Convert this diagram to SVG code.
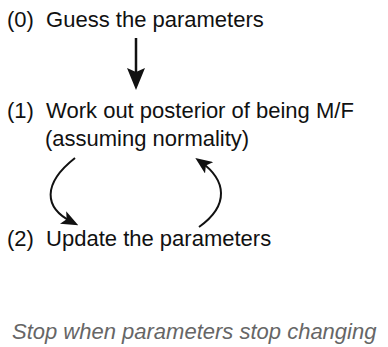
<svg xmlns="http://www.w3.org/2000/svg" width="388" height="347" viewBox="0 0 388 347">
  <defs>
    <marker id="headBig" markerUnits="userSpaceOnUse" markerWidth="22" markerHeight="18" refX="14" refY="9" orient="auto">
      <path d="M0,0 L22,9 L0,18 L4,9 z" fill="#111"/>
    </marker>
    <marker id="headSmall" markerUnits="userSpaceOnUse" markerWidth="17" markerHeight="14" refX="10" refY="7" orient="auto">
      <path d="M0,0 L17,7 L0,14 L4,7 z" fill="#111"/>
    </marker>
  </defs>
  <style>
    .step { font-family: "Liberation Sans", Arial, Helvetica, sans-serif; font-size: 22px; fill: #111; }
    .note { font-family: "Liberation Sans", Arial, Helvetica, sans-serif; font-size: 22px; font-style: italic; fill: #666; }
    .conn { fill: none; stroke: #111; }
  </style>
  <rect width="388" height="347" fill="#fff"/>

  <g id="step0">
    <text class="step" x="7" y="27" xml:space="preserve">(0)  Guess the parameters</text>
  </g>
  <g id="step1">
    <text class="step" x="7" y="118" xml:space="preserve">(1)  Work out posterior of being M/F</text>
    <text class="step" x="45" y="146">(assuming normality)</text>
  </g>
  <g id="step2">
    <text class="step" x="7" y="246" xml:space="preserve">(2)  Update the parameters</text>
  </g>
  <g id="stop-rule">
    <text class="note" x="12" y="339">Stop when parameters stop changing</text>
  </g>

  <g id="connectors">
    <path class="conn" d="M136,38 L136,82" stroke-width="2.5" marker-end="url(#headBig)"/>
    <path class="conn" d="M75,158 C42,184 44,208 72,222" stroke-width="2" marker-end="url(#headSmall)"/>
    <path class="conn" d="M199,227 C230,205 226,180 201,162" stroke-width="2" marker-end="url(#headSmall)"/>
  </g>
</svg>
